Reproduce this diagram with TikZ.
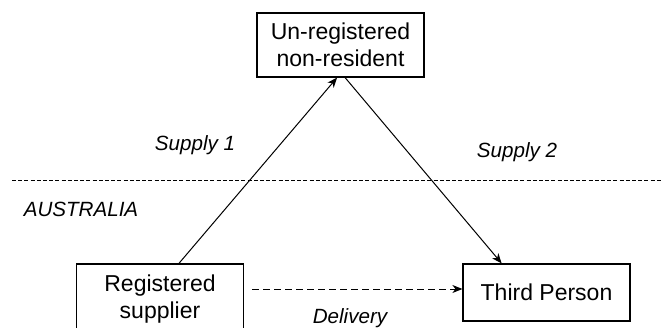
\documentclass[tikz,border=0pt]{standalone}
\usepackage{fontspec}
\setmainfont{Liberation Sans}
\usetikzlibrary{arrows.meta,positioning}

\begin{document}
\begin{tikzpicture}[x=0.5pt,y=-0.5pt,node distance=2cm,on grid,
  party/.style={draw,line width=0.6pt,minimum width=83.5pt,minimum height=32pt,
    align=center,font=\fontsize{11.5}{13.5}\selectfont},
  lbl/.style={font=\fontsize{10.3}{12}\selectfont\itshape},
  >={Stealth[length=5pt,width=4pt,inset=1.5pt]}]
\useasboundingbox (0,0) rectangle (663,327);
\node[party] (un) at (340.5,45) {Un-registered\\non-resident};
\node[party, minimum height=35pt] (sup) [below left=127pt and 90.25pt of un] {Registered\\supplier};
\node[party, minimum height=28.5pt] (tp) [right=193.25pt of sup, yshift=3.25pt] {Third Person};
% border line
\coordinate (wl) at (12,180);
\coordinate (wr) at (663,180);
\draw[line width=0.45pt,dash pattern=on 2pt off 1.1pt] (wl) -- (wr);
\node[lbl] (au) at (81,209) {AUSTRALIA};
% supplies
\draw[->,line width=0.5pt] (sup.62) -- (un.-96);
\draw[->,line width=0.5pt] (un.-82) -- (tp.147);
\node[lbl] (s1) at (195,145) {Supply 1};
\node[lbl] (s2) at (517,152) {Supply 2};
% delivery
\draw[->,line width=0.5pt,dash pattern=on 3.5pt off 2pt] ([shift={(4pt,5pt)}]sup.east) -- ([yshift=1.75pt]tp.west);
\node[lbl] (dl) at (350,318) {Delivery};
\end{tikzpicture}
\end{document}
